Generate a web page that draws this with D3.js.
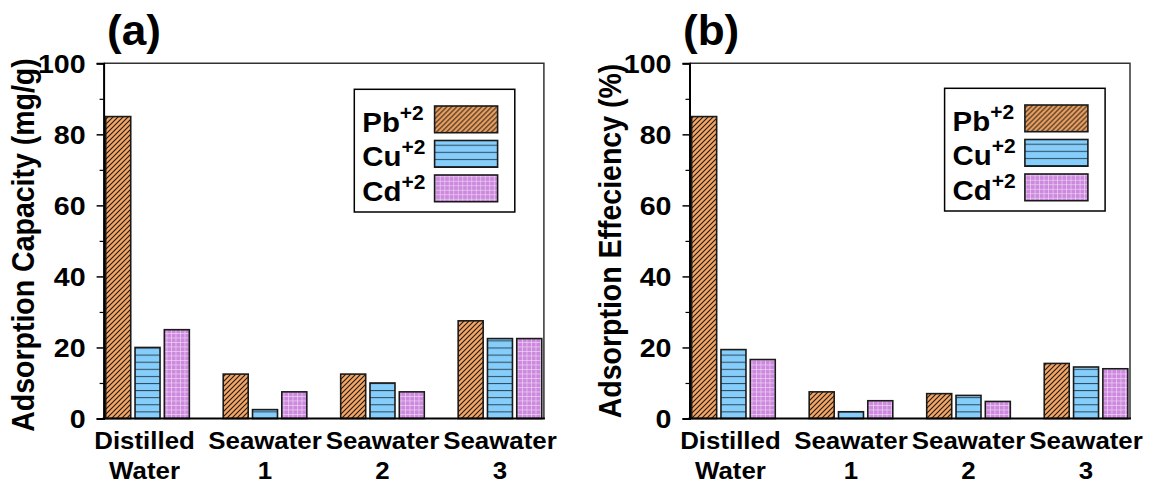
<!DOCTYPE html>
<html>
<head>
<meta charset="utf-8">
<script src="https://cdn.jsdelivr.net/npm/d3@7"></script>
<style>
  body { margin: 0; background: #fff; }
  text { font-family: Arial, "Liberation Sans", Helvetica, sans-serif; font-weight: bold; fill: #000; }
</style>
</head>
<body>
<div id="chart"></div>
<script>
// data
var groups = ["Distilled Water", "Seawater 1", "Seawater 2", "Seawater 3"];
var groupLines = [["Distilled", "Water"], ["Seawater", "1"], ["Seawater", "2"], ["Seawater", "3"]];
var ions = ["Pb", "Cu", "Cd"];

var pbCapacity = [85, 12.5, 12.5, 27.5];
var cuCapacity = [20, 2.5, 10, 22.5];
var cdCapacity = [25, 7.5, 7.5, 22.5];

var pbEfficiency = [85, 7.5, 7.0, 15.5];
var cuEfficiency = [19.4, 1.9, 6.5, 14.5];
var cdEfficiency = [16.6, 5.0, 4.8, 14.0];

var yTicks = [0, 20, 40, 60, 80, 100];
var yMinorTicks = [10, 30, 50, 70, 90];

var W = 1151, H = 485;
var SX = 1.1; // the picture is a bit wider than Arial

var svg = d3.select("#chart").append("svg").attr("width", W).attr("height", H);
var defs = svg.append("defs");

var y = d3.scaleLinear().domain([0, 100]).range([418.5, 63.3]);

// fill patterns
function makePatterns() {
  var pb = defs.append("pattern").attr("id", "pat-Pb")
    .attr("patternUnits", "userSpaceOnUse").attr("width", 5).attr("height", 5);
  pb.append("rect").attr("width", 5).attr("height", 5).attr("fill", "#F5A561");
  pb.append("path").attr("d", "M-1,1 l2,-2 M0,5 l5,-5 M4,6 l2,-2")
    .attr("stroke", "#1a1a1a").attr("stroke-width", 1.1);

  var cu = defs.append("pattern").attr("id", "pat-Cu")
    .attr("patternUnits", "userSpaceOnUse").attr("width", 10).attr("height", 7.1)
    .attr("y", y(0) % 7.1);
  cu.append("rect").attr("width", 10).attr("height", 7.1).attr("fill", "#85CDFA");
  cu.append("line").attr("x1", 0).attr("x2", 10).attr("y1", 0).attr("y2", 0)
    .attr("stroke", "#2c4656").attr("stroke-width", 2);

  var cd = defs.append("pattern").attr("id", "pat-Cd")
    .attr("patternUnits", "userSpaceOnUse").attr("width", 4.5).attr("height", 4.5);
  cd.append("rect").attr("width", 4.5).attr("height", 4.5).attr("fill", "#CC89DD");
  cd.append("path").attr("d", "M0,0.3 h4.5 M0.3,0 v4.5")
    .attr("stroke", "#f2dcf6").attr("stroke-width", 0.7);
}
makePatterns();

function stretch(x, yy, extra) {
  return "translate(" + x + "," + yy + ") scale(" + SX + ",1)" + (extra || "");
}

function drawPanel(p) {
  var g = svg.append("g");
  var x = d3.scalePoint().domain(groups).range([p.left, p.right]).padding(0.374);
  var inner = d3.scaleBand().domain(ions).range([-41.8, 41.8]).paddingInner(0.147);

  var rows = [];
  groups.forEach(function(grp, i) {
    ions.forEach(function(ion) {
      rows.push({ group: grp, ion: ion, value: p.values[ion][i] });
    });
  });

  g.selectAll("rect.bar").data(rows).enter().append("rect")
    .attr("class", "bar")
    .attr("x", function(d) { return x(d.group) + inner(d.ion); })
    .attr("width", inner.bandwidth())
    .attr("y", function(d) { return y(d.value); })
    .attr("height", function(d) { return y(0) - y(d.value); })
    .attr("fill", function(d) { return "url(#pat-" + d.ion + ")"; })
    .attr("stroke", "#1a1a1a").attr("stroke-width", 1.6);

  // frame: top and right
  g.append("path")
    .attr("d", "M" + p.left + "," + y(100) + "H" + p.right + "V" + y(0))
    .attr("fill", "none").attr("stroke", "#333").attr("stroke-width", 1.5);

  // left axis
  var ax = g.append("g").attr("transform", "translate(" + p.left + ",0)")
    .call(d3.axisLeft(y).tickValues(yTicks).tickSize(7).tickPadding(11));
  ax.select(".domain").attr("stroke", "#000").attr("stroke-width", 2);
  ax.selectAll(".tick line").attr("stroke-width", 1.5);
  ax.selectAll(".tick text")
    .attr("font-size", 26).attr("font-family", null)
    .attr("dy", "0.36em")
    .attr("transform", "scale(" + SX + ",1)")
    .attr("x", -11 / SX - 7 / SX);
  g.append("g").attr("transform", "translate(" + p.left + ",0)")
    .call(d3.axisLeft(y).tickValues(yMinorTicks).tickSize(4).tickFormat(""))
    .call(function(s) { s.select(".domain").remove(); s.selectAll("line").attr("stroke-width", 1.2); });

  // bottom axis line
  g.append("line").attr("x1", p.left - 1).attr("x2", p.right + 1)
    .attr("y1", y(0)).attr("y2", y(0))
    .attr("stroke", "#000").attr("stroke-width", 2);

  // category labels
  groups.forEach(function(grp, i) {
    groupLines[i].forEach(function(line, k) {
      g.append("text").attr("text-anchor", "middle").attr("font-size", 23.5)
        .attr("transform", stretch(x(grp) - (i === 0 ? 3 : 0), 449 + k * 30))
        .text(line);
    });
  });

  // y title
  g.append("text").attr("text-anchor", "middle").attr("font-size", 28.5)
    .attr("transform", stretch(p.titleX, p.titleY, " rotate(-90)"))
    .text(p.title);

  // panel letter
  g.append("text").attr("font-size", 42)
    .attr("transform", "translate(" + p.letterX + ",45) scale(1.05,1)")
    .text(p.letter);

  // legend
  var lg = g.append("g").attr("transform", "translate(" + p.legendX + "," + p.legendY + ")");
  lg.append("rect").attr("width", 160.5).attr("height", 122.7)
    .attr("fill", "#fff").attr("stroke", "#000").attr("stroke-width", 1.5);
  ions.forEach(function(ion, k) {
    var row = lg.append("g").attr("transform", "translate(0," + (k * 34.5) + ")");
    row.append("rect").attr("x", 80.3).attr("y", 16.7).attr("width", 63).attr("height", 26.7)
      .attr("fill", "url(#pat-" + ion + ")").attr("stroke", "#1a1a1a").attr("stroke-width", 1.6);
    var t = row.append("text").attr("font-size", 28)
      .attr("transform", "translate(8," + 42.4 + ") scale(1.05,1)");
    t.append("tspan").text(ion);
    t.append("tspan").attr("font-size", 20).attr("dy", -12).text("+2");
  });
}

drawPanel({
  left: 103.6, right: 543.9,
  values: { Pb: pbCapacity, Cu: cuCapacity, Cd: cdCapacity },
  title: "Adsorption Capacity (mg/g)", titleX: 34, titleY: 245,
  letter: "(a)", letterX: 107,
  legendX: 354.3, legendY: 89.3
});

drawPanel({
  left: 689.5, right: 1130,
  values: { Pb: pbEfficiency, Cu: cuEfficiency, Cd: cdEfficiency },
  title: "Adsorption Effeciency (%)", titleX: 621, titleY: 241,
  letter: "(b)", letterX: 683,
  legendX: 944.6, legendY: 88.3
});
</script>
</body>
</html>
